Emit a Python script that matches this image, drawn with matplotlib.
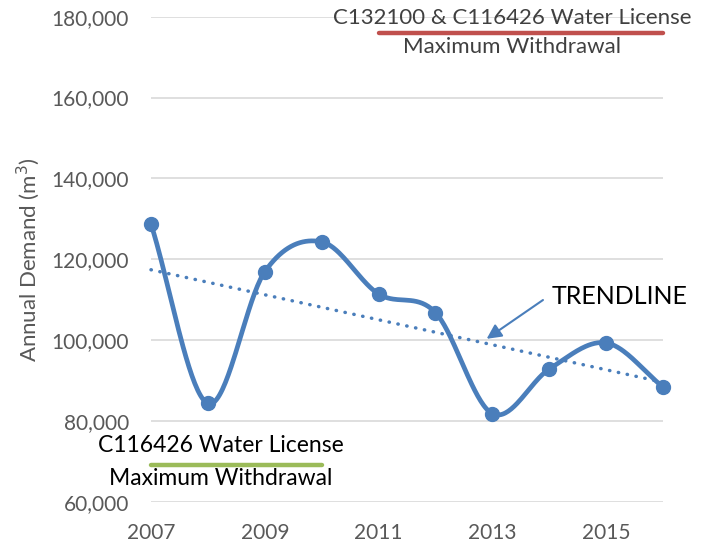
import numpy as np
import matplotlib
matplotlib.use('Agg')
import matplotlib.pyplot as plt
from matplotlib.ticker import FuncFormatter

# 数据
years = [2007, 2008, 2009, 2010, 2011, 2012, 2013, 2014, 2015, 2016]
demand = [128700, 84300, 116900, 124300, 111400, 106800, 81800, 92800, 99300, 88400]

# 许可证上限
combined_limit = 176000
combined_span = [2011, 2016]
single_limit = 69000
single_span = [2007, 2010]

yticks = [60000, 80000, 100000, 120000, 140000, 160000, 180000]
xticks = [2007, 2009, 2011, 2013, 2015]

BLUE = '#4a7ebb'
GRAY = '#595959'

plt.rcParams['font.family'] = ['Lato', 'DejaVu Sans']


def smooth_curve(x, y, n=40):
    """Catmull-Rom 平滑曲线（类似 Excel 平滑线）"""
    x = np.asarray(x, float)
    y = np.asarray(y, float)
    px = np.concatenate([[2 * x[0] - x[1]], x, [2 * x[-1] - x[-2]]])
    py = np.concatenate([[2 * y[0] - y[1]], y, [2 * y[-1] - y[-2]]])
    xs, ys = [], []
    t = np.linspace(0, 1, n)
    for i in range(1, len(px) - 2):
        for p, out in ((px, xs), (py, ys)):
            p0, p1, p2, p3 = p[i - 1], p[i], p[i + 1], p[i + 2]
            out.extend(0.5 * (2 * p1 + (-p0 + p2) * t
                              + (2 * p0 - 5 * p1 + 4 * p2 - p3) * t ** 2
                              + (-p0 + 3 * p1 - 3 * p2 + p3) * t ** 3))
    return np.array(xs), np.array(ys)


fig = plt.figure(figsize=(7.06, 5.46), dpi=100)
ax = fig.add_axes([151 / 706, 1 - 501.7 / 546, 512 / 706, 485 / 546])

for v in yticks:
    ax.axhline(v, color='#d9d9d9', lw=1.2, zorder=0)

# 平滑需求曲线
sx, sy = smooth_curve(years, demand)
ax.plot(sx, sy, color=BLUE, lw=3.4, solid_capstyle='round', clip_on=False, zorder=3)
ax.plot(years, demand, 'o', color=BLUE, ms=10, clip_on=False, zorder=4)

# 线性趋势线
coef = np.polyfit(years, demand, 1)
tx = np.array([years[0], years[-1]])
ax.plot(tx, np.polyval(coef, tx), color=BLUE, lw=2.5, linestyle=(0, (0.1, 2.5)),
        dash_capstyle='round', clip_on=False, zorder=2)

# 许可证线
ax.plot(combined_span, [combined_limit] * 2, color='#c0504d', lw=3.2,
        solid_capstyle='round', clip_on=False, zorder=3)
ax.plot(single_span, [single_limit] * 2, color='#9bbb59', lw=3.2,
        solid_capstyle='round', clip_on=False, zorder=3)

ax.text(2013.35, 179700, 'C132100 & C116426 Water License', ha='center', va='center',
        fontsize=16, color='#404040', zorder=2)
ax.text(2013.35, 172500, 'Maximum Withdrawal', ha='center', va='center',
        fontsize=16, color='#404040')
ax.text(2008.23, 73800, 'C116426 Water License', ha='center', va='center',
        fontsize=16.5, color='black')
ax.text(2008.23, 65800, 'Maximum Withdrawal', ha='center', va='center',
        fontsize=16.5, color='black')

ax.text(2014.05, 110700, 'TRENDLINE', fontsize=18, color='black', ha='left', va='center')
ax.annotate('', xy=(2012.9, 100300), xytext=(2013.89, 109900),
            arrowprops=dict(arrowstyle='-|>', color=BLUE, lw=1.5, mutation_scale=22,
                            shrinkA=0, shrinkB=0))

ax.set_xlim(2007, 2016)
ax.set_ylim(60000, 180000)
ax.set_xticks(xticks)
ax.set_yticks(yticks)
ax.yaxis.set_major_formatter(FuncFormatter(lambda v, p: f'{int(v):,}'))
ax.tick_params(length=0, labelsize=15, labelcolor=GRAY)
ax.tick_params(axis='y', pad=16)
ax.tick_params(axis='x', pad=15)
for s in ax.spines.values():
    s.set_visible(False)

ax.set_ylabel('Annual Demand (m$^3$)', fontsize=16, color=GRAY, labelpad=7)

fig.savefig('out.png', dpi=100)
